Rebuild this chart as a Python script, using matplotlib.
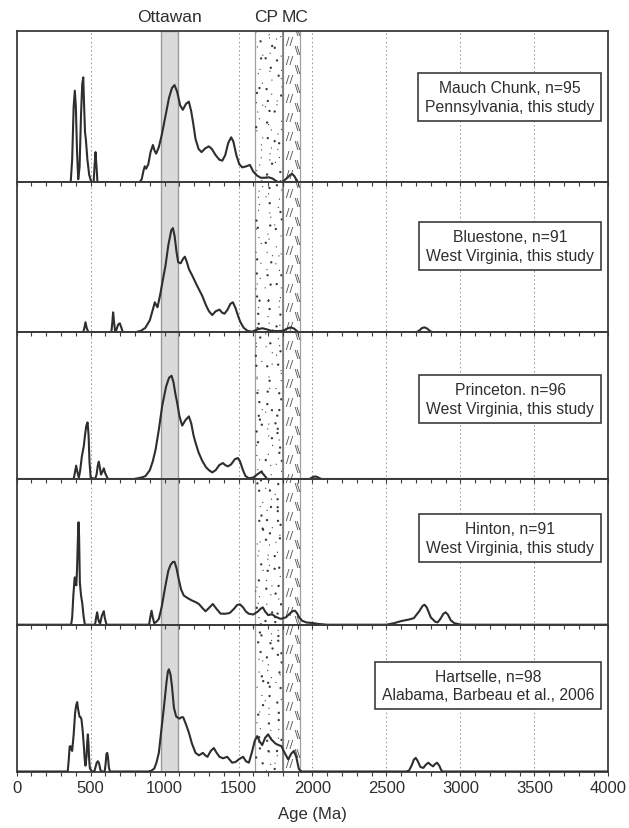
import matplotlib
matplotlib.use("Agg")
import matplotlib.pyplot as plt
import numpy as np
from matplotlib.transforms import blended_transform_factory

plt.rcParams['font.family'] = ['Liberation Sans', 'DejaVu Sans']

# ---------------- data ----------------
x_major = [0, 500, 1000, 1500, 2000, 2500, 3000, 3500, 4000]
grid_ages = [500, 1000, 1500, 2000, 2500, 3000, 3500]

band_names = ['Ottawan', 'CP', 'MC']
band_start = [975, 1610, 1800]
band_end = [1090, 1800, 1915]

sample_labels = [
    'Mauch Chunk, n=95\nPennsylvania, this study',
    'Bluestone, n=91\nWest Virginia, this study',
    'Princeton. n=96\nWest Virginia, this study',
    'Hinton, n=91\nWest Virginia, this study',
    'Hartselle, n=98\nAlabama, Barbeau et al., 2006',
]

mauch_age = [0, 365, 375, 385, 393, 400, 408, 416, 425, 435, 443, 450, 456, 462, 468, 478, 490, 505,
             520, 526, 533, 540, 546, 830, 845, 858, 866, 875, 890, 905, 921, 932, 943, 960, 980, 1006,
             1030, 1050, 1067, 1085, 1105, 1123, 1145, 1164, 1180, 1195, 1209, 1230, 1250, 1275, 1299,
             1320, 1345, 1370, 1390, 1410, 1430, 1450, 1465, 1485, 1505, 1525, 1550, 1577, 1600, 1626,
             1650, 1680, 1705, 1730, 1755, 1773, 1800, 1830, 1850, 1863, 1878, 1895, 1905, 4000]
mauch_dens = [0, 0, 0.15, 0.5, 0.607, 0.5, 0.2, 0.02, 0.1, 0.45, 0.65, 0.695, 0.5, 0.33, 0.28, 0.15, 0.05, 0,
              0, 0.1, 0.2, 0.1, 0, 0, 0.02, 0.08, 0.106, 0.09, 0.12, 0.2, 0.247, 0.21, 0.19, 0.23, 0.31, 0.44,
              0.56, 0.625, 0.644, 0.6, 0.51, 0.48, 0.52, 0.534, 0.47, 0.38, 0.287, 0.22, 0.2, 0.225, 0.238,
              0.22, 0.18, 0.15, 0.143, 0.18, 0.26, 0.298, 0.27, 0.18, 0.12, 0.099, 0.105, 0.115, 0.07, 0.044,
              0.03, 0.03, 0.033, 0.025, 0.008, 0, 0.005, 0.03, 0.05, 0.055, 0.04, 0.01, 0, 0]

blue_age = [0, 450, 458, 465, 473, 485, 640, 646, 652, 658, 665, 672, 685, 697, 708, 718, 800, 840, 870,
            900, 920, 934, 944, 952, 970, 990, 1006, 1025, 1045, 1056, 1068, 1080, 1092, 1108, 1125, 1137,
            1150, 1165, 1187, 1210, 1230, 1254, 1280, 1300, 1322, 1345, 1371, 1390, 1405, 1425, 1445, 1462,
            1480, 1500, 1513, 1535, 1560, 1592, 1630, 1660, 1690, 1720, 1760, 1800, 1830, 1852, 1875, 1895,
            1908, 2700, 2720, 2740, 2757, 2775, 2795, 2815, 4000]
blue_dens = [0, 0, 0.03, 0.067, 0.03, 0, 0, 0.06, 0.133, 0.07, 0.01, 0.01, 0.05, 0.06, 0.03, 0, 0, 0.01, 0.03,
             0.08, 0.15, 0.2, 0.18, 0.167, 0.25, 0.36, 0.444, 0.58, 0.68, 0.695, 0.64, 0.54, 0.467, 0.46, 0.49, 0.504,
             0.47, 0.42, 0.378, 0.33, 0.29, 0.244, 0.18, 0.14, 0.115, 0.14, 0.151, 0.13, 0.124, 0.15, 0.19, 0.2,
             0.16, 0.1, 0.067, 0.03, 0.01, 0.004, 0.02, 0.027, 0.02, 0.01, 0.008, 0.01, 0.025, 0.033, 0.025, 0.008,
             0, 0, 0.01, 0.028, 0.033, 0.025, 0.008, 0, 0]

prince_age = [0, 385, 393, 402, 410, 420, 428, 440, 454, 462, 470, 479, 486, 492, 500, 530, 540, 548, 555,
              562, 570, 580, 589, 598, 617, 790, 820, 850, 871, 900, 920, 939, 960, 984, 1010, 1030, 1047,
              1060, 1073, 1085, 1100, 1119, 1140, 1164, 1180, 1195, 1209, 1230, 1254, 1280, 1300, 1322, 1345,
              1370, 1394, 1410, 1428, 1450, 1475, 1495, 1510, 1530, 1547, 1570, 1600, 1625, 1653, 1670, 1694,
              1980, 2000, 2018, 2035, 2060, 4000]
prince_dens = [0, 0, 0.04, 0.091, 0.05, 0.01, 0.05, 0.15, 0.227, 0.3, 0.36, 0.386, 0.3, 0.12, 0.01, 0, 0.03, 0.09,
               0.118, 0.08, 0.03, 0.05, 0.073, 0.04, 0, 0, 0.005, 0.012, 0.02, 0.06, 0.12, 0.2, 0.33, 0.5, 0.63, 0.69,
               0.704, 0.66, 0.58, 0.52, 0.43, 0.364, 0.4, 0.427, 0.38, 0.3, 0.248, 0.18, 0.125, 0.08, 0.06, 0.045,
               0.06, 0.095, 0.109, 0.095, 0.086, 0.1, 0.135, 0.143, 0.12, 0.06, 0.02, 0.005, 0.01, 0.03, 0.05, 0.03,
               0, 0, 0.012, 0.018, 0.012, 0, 0]

hinton_age = [0, 368, 375, 383, 390, 393, 398, 403, 408, 414, 418, 422, 427, 435, 443, 452, 461, 530, 537,
              544, 551, 558, 565, 575, 589, 595, 607, 895, 903, 912, 920, 930, 945, 961, 980, 1006, 1025, 1040,
              1055, 1067, 1080, 1096, 1112, 1130, 1160, 1187, 1210, 1232, 1255, 1277, 1300, 1326, 1350, 1378,
              1410, 1440, 1470, 1490, 1509, 1530, 1550, 1570, 1600, 1630, 1650, 1664, 1680, 1700, 1715, 1728,
              1750, 1784, 1820, 1850, 1870, 1881, 1895, 1910, 1930, 1960, 1998, 2040, 2100, 2500, 2550, 2600,
              2650, 2685, 2720, 2745, 2757, 2772, 2800, 2830, 2846, 2865, 2885, 2900, 2915, 2935, 2960, 3010, 4000]
hinton_dens = [0, 0, 0.05, 0.2, 0.3, 0.325, 0.29, 0.27, 0.38, 0.6, 0.703, 0.6, 0.29, 0.2, 0.15, 0.06, 0, 0, 0.05,
               0.085, 0.04, 0.015, 0.01, 0.06, 0.093, 0.05, 0, 0, 0.05, 0.096, 0.05, 0.01, 0.02, 0.04, 0.12, 0.27, 0.37,
               0.41, 0.43, 0.432, 0.39, 0.31, 0.24, 0.2, 0.18, 0.165, 0.155, 0.142, 0.115, 0.092, 0.115, 0.142, 0.11,
               0.076, 0.075, 0.08, 0.11, 0.135, 0.14, 0.12, 0.09, 0.075, 0.07, 0.09, 0.11, 0.119, 0.09, 0.066, 0.07,
               0.07, 0.055, 0.04, 0.05, 0.08, 0.095, 0.096, 0.08, 0.05, 0.027, 0.015, 0.012, 0.005, 0, 0, 0.01, 0.025,
               0.035, 0.045, 0.09, 0.13, 0.137, 0.12, 0.05, 0.02, 0.016, 0.04, 0.075, 0.085, 0.07, 0.03, 0.01, 0, 0]

hart_age = [0, 345, 352, 358, 364, 370, 375, 385, 395, 402, 409, 416, 425, 432, 438, 446, 454, 460, 465,
            472, 477, 481, 486, 490, 495, 510, 525, 533, 541, 549, 557, 566, 575, 595, 602, 607, 612, 617,
            623, 630, 890, 910, 930, 945, 961, 980, 995, 1012, 1022, 1029, 1040, 1050, 1063, 1078, 1100,
            1115, 1126, 1145, 1164, 1185, 1209, 1232, 1259, 1275, 1290, 1312, 1333, 1350, 1371, 1395, 1423,
            1440, 1457, 1480, 1505, 1531, 1550, 1570, 1590, 1610, 1626, 1645, 1660, 1680, 1700, 1720, 1750,
            1770, 1790, 1810, 1836, 1855, 1874, 1890, 1908, 1926, 2630, 2652, 2670, 2685, 2698, 2712, 2730,
            2750, 2765, 2783, 2800, 2815, 2828, 2842, 2857, 2870, 2880, 4000]
hart_dens = [0, 0, 0.08, 0.17, 0.173, 0.15, 0.14, 0.25, 0.4, 0.45, 0.473, 0.42, 0.373, 0.37, 0.355, 0.28, 0.173,
             0.08, 0.04, 0.1, 0.2, 0.253, 0.18, 0.08, 0.02, 0, 0, 0.03, 0.06, 0.07, 0.055, 0.01, 0, 0, 0.06, 0.12,
             0.127, 0.1, 0.03, 0, 0, 0.005, 0.02, 0.06, 0.127, 0.3, 0.434, 0.6, 0.68, 0.696, 0.66, 0.58, 0.434,
             0.375, 0.36, 0.37, 0.369, 0.32, 0.265, 0.19, 0.127, 0.11, 0.127, 0.11, 0.1, 0.14, 0.16, 0.13, 0.1,
             0.09, 0.1, 0.08, 0.06, 0.065, 0.085, 0.1, 0.07, 0.06, 0.13, 0.21, 0.241, 0.2, 0.18, 0.23, 0.253, 0.22,
             0.19, 0.18, 0.173, 0.13, 0.082, 0.12, 0.14, 0.1, 0.016, 0, 0, 0.005, 0.04, 0.08, 0.093, 0.07, 0.03,
             0.025, 0.045, 0.06, 0.045, 0.035, 0.05, 0.06, 0.04, 0.01, 0, 0]

ages = [mauch_age, blue_age, prince_age, hinton_age, hart_age]
dens = [mauch_dens, blue_dens, prince_dens, hinton_dens, hart_dens]

# ---------------- layout ----------------
W, H = 629, 829
fig = plt.figure(figsize=(W / 100, H / 100), dpi=100)
left_px, right_px = 16.7, 608.3
bounds_px = [32.3, 183.3, 333.3, 480.0, 625.7, 772.5]
label_y = [0.565, 0.575, 0.545, 0.595, 0.585]

fl = left_px / W
fw = (right_px - left_px) / W
top_f = 1 - bounds_px[0] / H
bot_f = 1 - bounds_px[-1] / H
span_px = bounds_px[-1] - bounds_px[0]

ink = '#2e2e2e'
frame = '#3c3c3c'

# overlay for bands / grid (continuous through all panels)
ov = fig.add_axes([fl, bot_f, fw, top_f - bot_f], zorder=0)
ov.set_xlim(0, 4000)
ov.set_ylim(0, 1)
ov.axis('off')
for g in grid_ages:
    ov.axvline(g, color='#9a9a9a', lw=0.75, ls=(0, (1.5, 2.5)), zorder=1)

# Ottawan
ov.axvspan(band_start[0], band_end[0], facecolor='#dadada', edgecolor='#9a9a9a', lw=1.0, zorder=2)


def _hash(a):
    # deterministic hash -> [0, 1) used only for the stipple texture
    return (np.sin(a) * 43758.5453) % 1.0


# CP: stipple texture
cp_w = band_end[1] - band_start[1]
ov.axvspan(band_start[1], band_end[1], facecolor='white', edgecolor='#a0a0a0', lw=0.9, zorder=2)
n_rows = int(span_px / 6.5)
r_idx, c_idx = np.meshgrid(np.arange(n_rows), np.arange(3), indexing='ij')
r_idx = r_idx.ravel().astype(float)
c_idx = c_idx.ravel().astype(float)
hx = _hash(r_idx * 12.9898 + c_idx * 78.233)
hy = _hash(r_idx * 39.3468 + c_idx * 11.135)
hs = _hash(r_idx * 73.156 + c_idx * 52.235)
dot_x = band_start[1] + ((c_idx + 0.1 + 0.8 * hx) / 3.0) * cp_w
dot_y = (r_idx + hy) / n_rows
dot_s = np.where(hs > 0.6, 2.8, 0.8)
ov.scatter(dot_x, dot_y, s=dot_s, color='#3a3a3a', linewidths=0, zorder=3)

# MC: paired slash texture
ov.axvspan(band_start[2], band_end[2], facecolor='white', edgecolor='#a0a0a0', lw=0.9, zorder=2)
mc_w = band_end[2] - band_start[2]
row_step = 19.0 / span_px
rows = np.arange(0.012, 0.99, row_step)
ov.scatter(np.full(len(rows), band_start[2] + 0.33 * mc_w), rows, marker='$//$', s=42,
           color='#555555', linewidths=0, zorder=3)
ov.scatter(np.full(len(rows), band_start[2] + 0.80 * mc_w), rows + row_step / 2,
           marker='$\\backslash\\!\\backslash$', s=42, color='#555555', linewidths=0, zorder=3)
ov.axvline(band_start[2], color='#7a7a7a', lw=1.2, zorder=3)

trans = blended_transform_factory(ov.transData, ov.transAxes)
label_x = [(s + e) / 2 for s, e in zip(band_start, band_end)]
label_x[1] -= 20
label_x[2] += 25
for name, lx in zip(band_names, label_x):
    ov.text(lx, 1 + 14.5 / span_px, name, transform=trans, ha='center', va='center',
            fontsize=12.5, color=ink)

# panels
axes = []
for i in range(5):
    b = 1 - bounds_px[i + 1] / H
    t = 1 - bounds_px[i] / H
    ax = fig.add_axes([fl, b, fw, t - b], zorder=1)
    ax.set_facecolor('none')
    ax.set_xlim(0, 4000)
    ax.set_ylim(0, 1)
    ax.set_yticks([])
    ax.set_xticks(x_major)
    ax.set_xticks(np.arange(0, 4001, 100), minor=True)
    ax.tick_params(axis='x', which='both', direction='out', length=3, width=0.8, color=frame,
                   labelsize=12, labelcolor=ink, pad=3)
    for sp in ax.spines.values():
        sp.set_color(frame)
        sp.set_linewidth(1.3)
    ax.plot(ages[i], dens[i], color=ink, lw=1.5, solid_joinstyle='round', zorder=3)
    ax.text(0.976, label_y[i], sample_labels[i], transform=ax.transAxes, ha='right', va='center',
            multialignment='center', fontsize=11.3, linespacing=1.3, color=ink, zorder=5,
            bbox=dict(boxstyle='square,pad=0.45', facecolor='white', edgecolor=frame, lw=1.2))
    if i < 4:
        ax.tick_params(axis='x', labelbottom=False)
    axes.append(ax)

fig.text(fl + fw / 2, 1 - 815 / H, 'Age (Ma)', ha='center', va='center', fontsize=12, color=ink)

fig.savefig('out.png', dpi=100)
